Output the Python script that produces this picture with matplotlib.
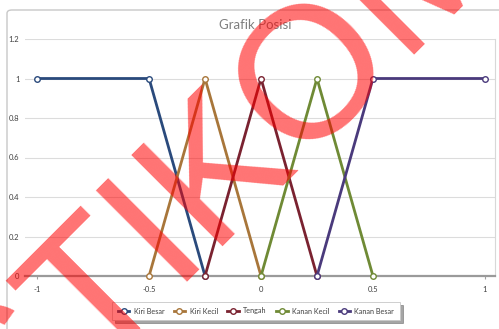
import matplotlib.pyplot as plt
from matplotlib.patches import FancyBboxPatch

# data: membership functions for "Grafik Posisi"
series_names = ['Kiri Besar', 'Kiri Kecil', 'Tengah', 'Kanan Kecil', 'Kanan Besar']
kiri_besar_x = [-1, -0.5, -0.25]
kiri_besar_y = [1, 1, 0]
kiri_kecil_x = [-0.5, -0.25, 0]
kiri_kecil_y = [0, 1, 0]
tengah_x = [-0.25, 0, 0.25]
tengah_y = [0, 1, 0]
kanan_kecil_x = [0, 0.25, 0.5]
kanan_kecil_y = [0, 1, 0]
kanan_besar_x = [0.25, 0.5, 1]
kanan_besar_y = [0, 1, 1]
colors = ['#2a4a7c', '#a8763a', '#7a2230', '#6f8a35', '#4a3a7c']

x_ticks = [-1, -0.5, 0, 0.5, 1]
x_labels = ['-1', '-0.5', '0', '0.5', '1']
y_ticks = [0, 0.2, 0.4, 0.6, 0.8, 1, 1.2]
y_labels = ['0', '0.2', '0.4', '0.6', '0.8', '1', '1.2']

plt.rcParams['font.family'] = ['Lato', 'DejaVu Sans']

fig = plt.figure(figsize=(4.99, 3.29), dpi=100)
# outer chart frame
frame = FancyBboxPatch((7 / 499, -0.05), 1.0, 1 - 10 / 329 + 0.05,
                       boxstyle='round,pad=0,rounding_size=0.01',
                       transform=fig.transFigure, facecolor='none',
                       edgecolor='#c8c8c8', lw=1.0, zorder=-1)
fig.patches.append(frame)

ax = fig.add_axes([25 / 499, 1 - 276 / 329, 470 / 499, 237 / 329])
ax.set_facecolor('none')

xs = [kiri_besar_x, kiri_kecil_x, tengah_x, kanan_kecil_x, kanan_besar_x]
ys = [kiri_besar_y, kiri_kecil_y, tengah_y, kanan_kecil_y, kanan_besar_y]
for x, y, name, c in zip(xs, ys, series_names, colors):
    ax.plot(x, y, color=c, lw=2.0, marker='o', ms=4, mfc='white', mec=c,
            mew=1.0, label=name, zorder=3, clip_on=False)

ax.set_xlim(-1.054, 1.045)
ax.set_ylim(0, 1.2)
ax.set_xticks(x_ticks)
ax.set_xticklabels(x_labels)
ax.set_yticks(y_ticks)
ax.set_yticklabels(y_labels)
ax.tick_params(axis='both', labelsize=5.5, colors='#404040', length=0, pad=4)
ax.tick_params(axis='x', length=2, color='#a0a0a0', pad=5)
ax.yaxis.grid(True, color='#dcdcdc', lw=0.8)
ax.set_axisbelow(True)
for s in ['left', 'top']:
    ax.spines[s].set_visible(False)
ax.spines['right'].set_color('#d8d8d8')
ax.spines['bottom'].set_color('#9a9a9a')
ax.spines['bottom'].set_linewidth(1.6)

fig.text(255 / 499, 1 - 25 / 329, 'Grafik Posisi', ha='center', va='center',
         fontsize=9.5, color='#7f7f7f')

leg = ax.legend(loc='center', bbox_to_anchor=(256 / 499, 1 - 311 / 329),
                bbox_transform=fig.transFigure, ncol=5, fontsize=5.2,
                frameon=True, fancybox=False, shadow=True, handlelength=1.6,
                handletextpad=0.6, columnspacing=1.3, borderpad=0.8)
leg.get_frame().set_edgecolor('#c8c8c8')
leg.get_frame().set_linewidth(0.6)
for t in leg.get_texts():
    t.set_color('#404040')

# red watermark over the chart
fig.text(224 / 499, 1 - 168 / 329, 'STIKOM', rotation=45, rotation_mode='anchor',
         ha='center', va='center', fontsize=135, family='Liberation Sans',
         color='#ff0000', alpha=0.55, zorder=10)

fig.savefig('out.png', dpi=100)
